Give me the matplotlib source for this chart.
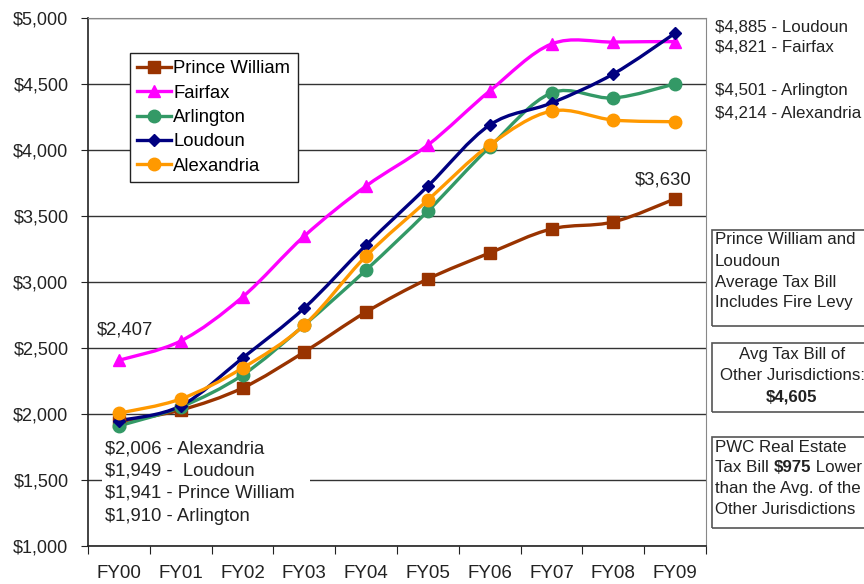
import matplotlib
matplotlib.use('Agg')
import matplotlib.pyplot as plt
from matplotlib.path import Path
from matplotlib.patches import PathPatch, Rectangle
from matplotlib.lines import Line2D
from matplotlib.ticker import FuncFormatter, FixedLocator

plt.rcParams['font.family'] = ['Liberation Sans', 'DejaVu Sans']

years = ['FY00', 'FY01', 'FY02', 'FY03', 'FY04', 'FY05', 'FY06', 'FY07', 'FY08', 'FY09']

prince_william = [1941, 2030, 2197, 2470, 2773, 3023, 3220, 3402, 3455, 3630]
fairfax = [2407, 2553, 2886, 3348, 3727, 4038, 4447, 4803, 4818, 4821]
arlington = [1910, 2053, 2295, 2674, 3091, 3538, 4023, 4432, 4394, 4501]
loudoun = [1949, 2061, 2424, 2803, 3280, 3727, 4189, 4356, 4576, 4885]
alexandria = [2006, 2114, 2348, 2674, 3197, 3621, 4038, 4295, 4227, 4214]

series = [
    ('Prince William', prince_william, '#993300', 's', 8),
    ('Fairfax', fairfax, '#FF00FF', '^', 9),
    ('Arlington', arlington, '#339966', 'o', 9),
    ('Loudoun', loudoun, '#000080', 'D', 6.5),
    ('Alexandria', alexandria, '#FF9900', 'o', 9),
]

start_notes = ['$2,006 - Alexandria', '$1,949 -  Loudoun',
               '$1,941 - Prince William', '$1,910 - Arlington']
end_notes = ['$4,885 - Loudoun', '$4,821 - Fairfax', '$4,501 - Arlington', '$4,214 - Alexandria']

TXT = '#222222'


def smooth_path(xs, ys):
    # excel style smoothed line, bezier through every point
    pts = list(zip(xs, ys))
    n = len(pts)
    verts = [pts[0]]
    codes = [Path.MOVETO]
    for i in range(n - 1):
        p0 = pts[max(i - 1, 0)]
        p1 = pts[i]
        p2 = pts[i + 1]
        p3 = pts[min(i + 2, n - 1)]
        c1 = (p1[0] + (p2[0] - p0[0]) / 6, p1[1] + (p2[1] - p0[1]) / 6)
        c2 = (p2[0] - (p3[0] - p1[0]) / 6, p2[1] - (p3[1] - p1[1]) / 6)
        verts += [c1, c2, p2]
        codes += [Path.CURVE4] * 3
    return Path(verts, codes)


fig = plt.figure(figsize=(8.64, 5.84), dpi=100)
ax = fig.add_axes([88 / 864, 38 / 584, 618 / 864, 528 / 584])

x = list(range(len(years)))
handles = []
for name, vals, col, mk, ms in series:
    ax.add_patch(PathPatch(smooth_path(x, vals), facecolor='none', edgecolor=col,
                           lw=2.4, zorder=3, capstyle='round', joinstyle='round'))
    ax.plot(x, vals, linestyle='none', marker=mk, color=col, markersize=ms, zorder=4)
    handles.append(Line2D([], [], color=col, lw=2.4, marker=mk, markersize=ms, label=name))

ax.set_xlim(-0.5, 9.5)
ax.set_ylim(1000, 5000)
ax.set_yticks(range(1000, 5001, 500))
ax.yaxis.set_major_formatter(FuncFormatter(lambda v, p: '${:,.0f}'.format(v)))
ax.grid(axis='y', color='#333333', lw=1)
ax.set_axisbelow(True)

ax.xaxis.set_major_locator(FixedLocator([i - 0.5 for i in range(len(years) + 1)]))
ax.xaxis.set_major_formatter(FuncFormatter(lambda v, p: ''))
ax.xaxis.set_minor_locator(FixedLocator(x))
ax.set_xticklabels(years, minor=True)
ax.tick_params(axis='x', which='minor', length=0, pad=14, labelsize=13.5, colors=TXT)
ax.tick_params(axis='x', which='major', length=6, color=TXT)
ax.tick_params(axis='y', length=5, labelsize=13, colors=TXT, pad=9)

for s in ['top', 'right']:
    ax.spines[s].set_color('#888888')
for s in ['left', 'bottom']:
    ax.spines[s].set_color(TXT)
    ax.spines[s].set_linewidth(1.2)

leg = ax.legend(handles=handles, loc='upper left', bbox_to_anchor=(0.068, 0.934),
                fontsize=13.3, fancybox=False, framealpha=1, edgecolor=TXT,
                handlelength=1.8, handletextpad=0.15, borderpad=0.4, labelspacing=0.4,
                borderaxespad=0)
leg.get_frame().set_linewidth(1)

ax.text(-0.35, 2636, '$2,407', fontsize=13.3, color=TXT, ha='left', va='center')
ax.text(8.8, 3773, '$3,630', fontsize=13.3, color=TXT, ha='center', va='center')

# white patch behind the FY00 notes hides the $1,500 gridline
ax.add_patch(Rectangle((-0.273, 1144), 3.36, 674, facecolor='white', edgecolor='none', zorder=2))
for t, v in zip(start_notes, [1735, 1568, 1402, 1227]):
    ax.text(-0.225, v, t, fontsize=13.3, color=TXT, ha='left', va='center', zorder=5)


def ftext(px, py, s, **kw):
    return fig.text(px / 864, 1 - py / 584, s, fontsize=12.2, color=TXT, va='center', **kw)


for t, yp in zip(end_notes, [27, 48, 91, 113]):
    ftext(715, yp, t, ha='left')

# side boxes
boxes = [(230, 326), (343, 412), (437, 528)]
for y0, y1 in boxes:
    fig.patches.append(Rectangle((712 / 864, 1 - y1 / 584), 160 / 864, (y1 - y0) / 584,
                                 transform=fig.transFigure, facecolor='none',
                                 edgecolor='#555555', lw=1.2))

for t, yp in zip(['Prince William and', 'Loudoun', 'Average Tax Bill', 'Includes Fire Levy'],
                 [240, 261, 282, 303]):
    ftext(715, yp, t, ha='left')

ftext(792, 355, 'Avg Tax Bill of', ha='center')
ftext(792, 376, 'Other Jurisdictions:', ha='center')
ftext(792, 397, '$4,605', ha='center', fontweight='bold')

ftext(715, 447, 'PWC Real Estate', ha='left')
ftext(715, 489, 'than the Avg. of the', ha='left')
ftext(715, 510, 'Other Jurisdictions', ha='left')

# mixed weight line, pieces placed one after the other
renderer = fig.canvas.get_renderer()
px = 715
for piece, wt in [('Tax Bill ', 'normal'), ('$975', 'bold'), (' Lower', 'normal')]:
    t = ftext(px, 467, piece, ha='left', fontweight=wt)
    px += t.get_window_extent(renderer).width

fig.savefig('out.png', dpi=100)
